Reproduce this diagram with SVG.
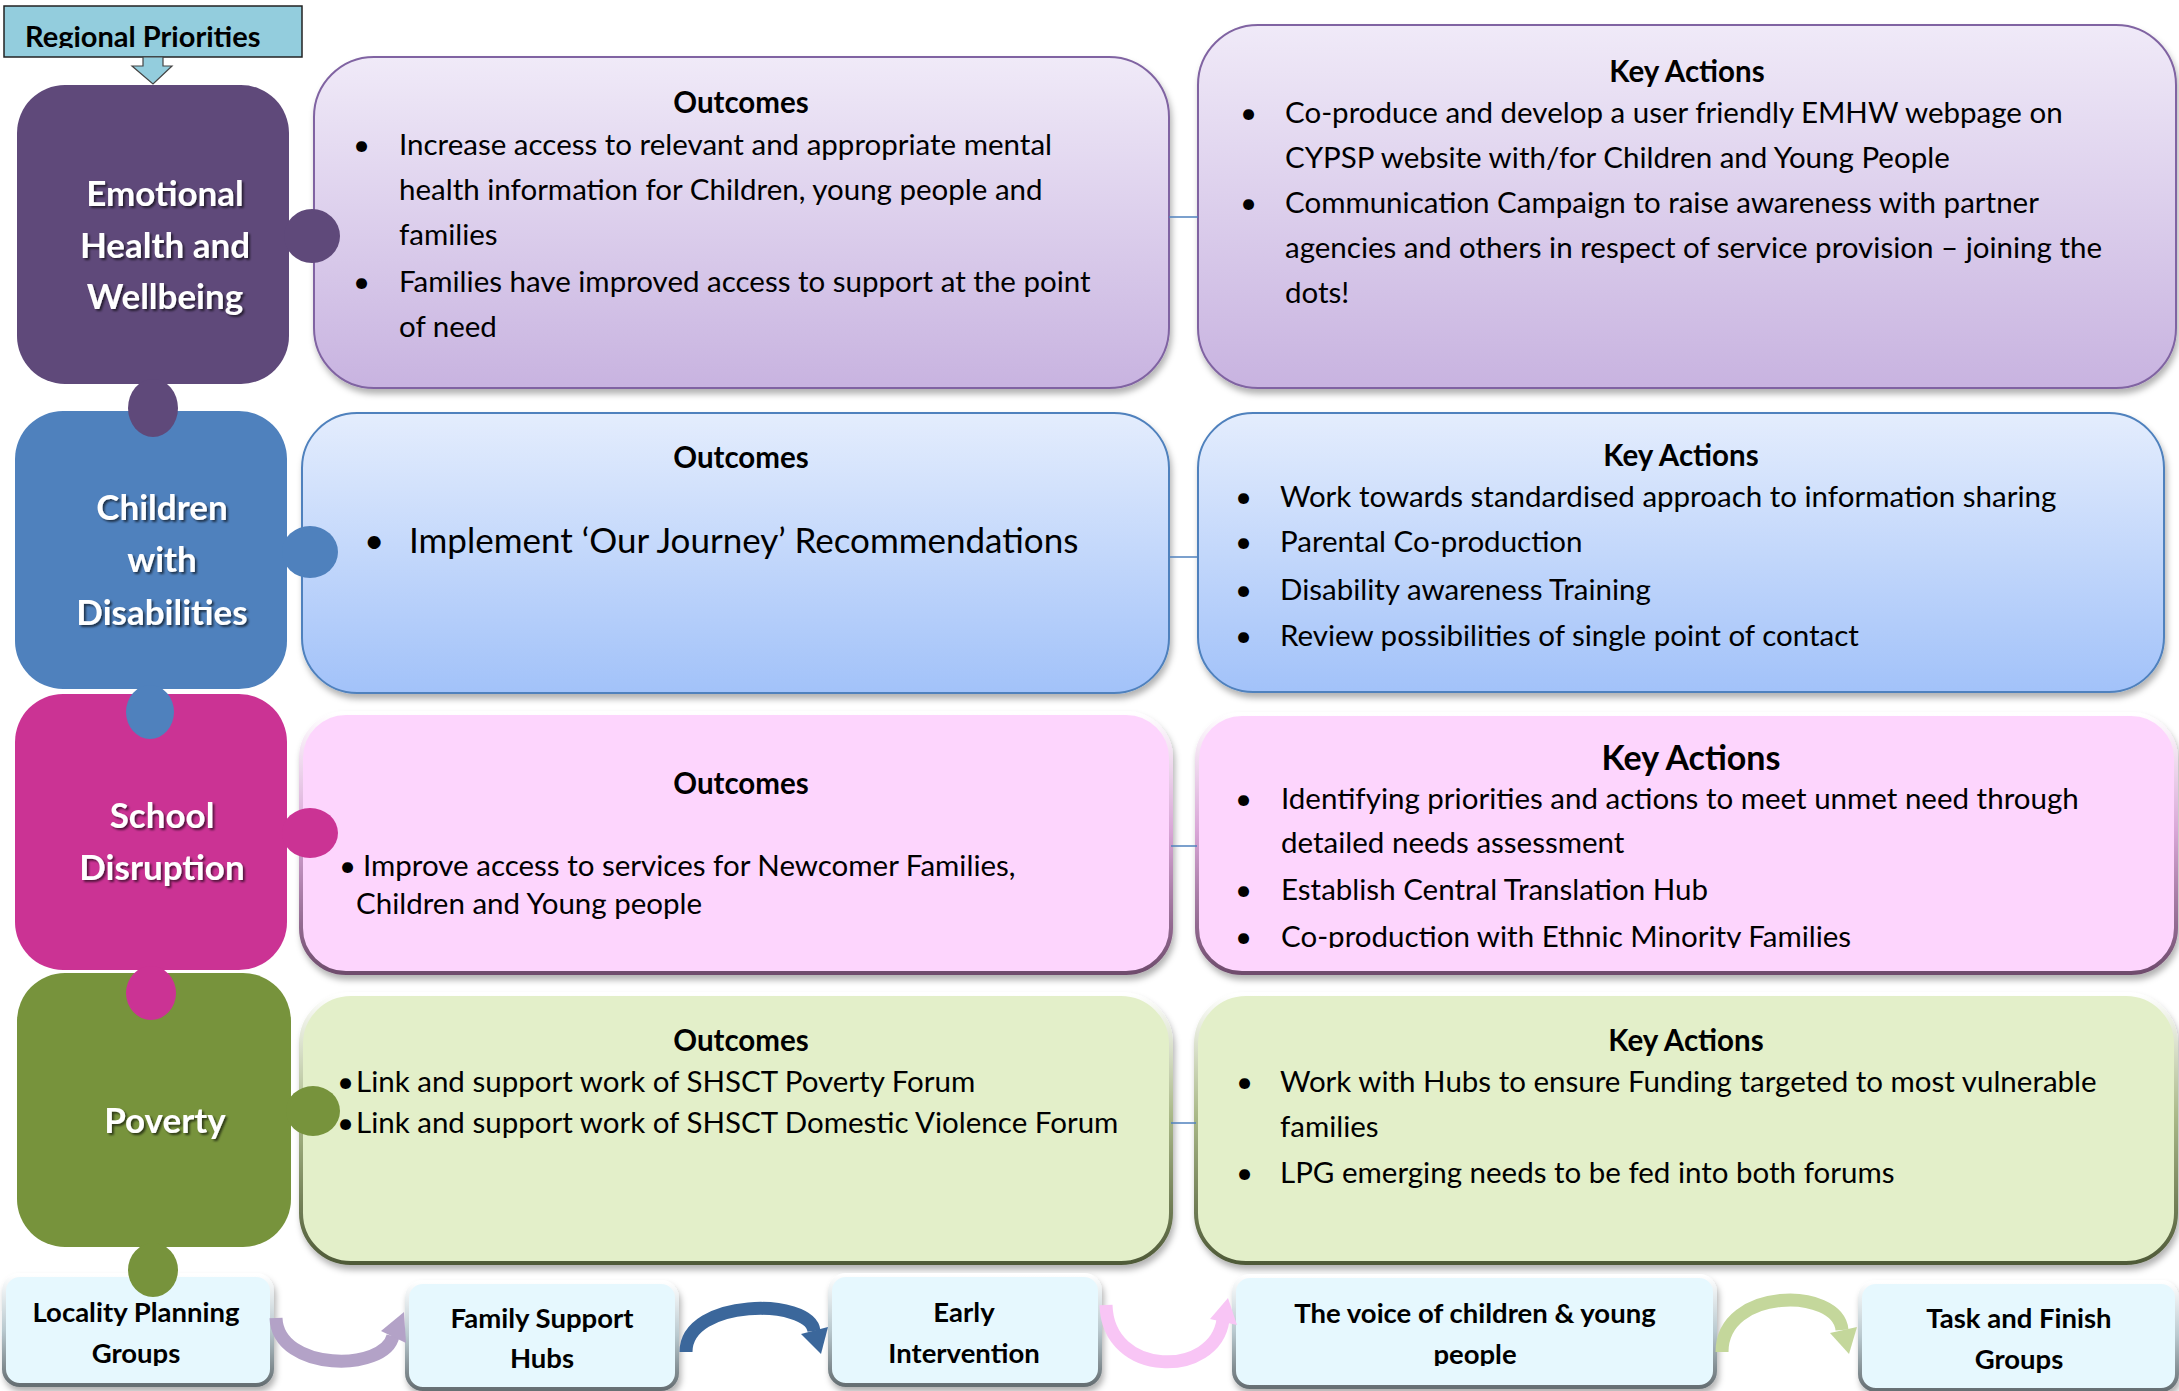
<svg xmlns="http://www.w3.org/2000/svg" width="2179" height="1391" viewBox="0 0 2179 1391">
<defs>
<style>
.body{font-family:Lato,"Open Sans","DejaVu Sans",sans-serif;font-size:29.5px;fill:#000}
.big{font-family:Lato,"Open Sans","DejaVu Sans",sans-serif;font-size:35px;fill:#000}
.head{font-family:Lato,"Open Sans","DejaVu Sans",sans-serif;font-size:29.5px;font-weight:700;fill:#000;text-anchor:middle}
.head2{font-family:Lato,"Open Sans","DejaVu Sans",sans-serif;font-size:34px;font-weight:700;fill:#000;text-anchor:middle}
.lbl{font-family:Lato,"Open Sans","DejaVu Sans",sans-serif;font-size:35px;font-weight:700;fill:#fff;text-anchor:middle;filter:url(#ts)}
.btm{font-family:Lato,"Open Sans","DejaVu Sans",sans-serif;font-size:27.5px;font-weight:700;fill:#000;text-anchor:middle}
.conn{stroke:#4F81BD;stroke-width:1.5;fill:none}
.curve{fill:none;stroke-width:13}
</style>
<linearGradient id="gPurple" x1="0" y1="0" x2="0" y2="1"><stop offset="0" stop-color="#F0EAF8"/><stop offset="1" stop-color="#C8B3E0"/></linearGradient>
<linearGradient id="gBlue" x1="0" y1="0" x2="0" y2="1"><stop offset="0" stop-color="#E4EDFD"/><stop offset="1" stop-color="#A2C2F9"/></linearGradient>
<linearGradient id="bPink" x1="0" y1="0" x2="0" y2="1"><stop offset="0" stop-color="#FFFFFF"/><stop offset="0.45" stop-color="#D9A6D7"/><stop offset="1" stop-color="#6F4C6D"/></linearGradient>
<linearGradient id="bGreen" x1="0" y1="0" x2="0" y2="1"><stop offset="0" stop-color="#FFFFFF"/><stop offset="0.45" stop-color="#AAB988"/><stop offset="1" stop-color="#4F5A38"/></linearGradient>
<linearGradient id="bCyan" x1="0" y1="0" x2="0" y2="1"><stop offset="0" stop-color="#FFFFFF"/><stop offset="0.5" stop-color="#B9C9CF"/><stop offset="1" stop-color="#666F73"/></linearGradient>
<filter id="sh" x="-5%" y="-5%" width="110%" height="120%"><feDropShadow dx="2" dy="5" stdDeviation="3" flood-color="#000" flood-opacity="0.3"/></filter>
<filter id="ts" x="-10%" y="-20%" width="120%" height="150%"><feDropShadow dx="2" dy="2" stdDeviation="1" flood-color="#000" flood-opacity="0.6"/></filter>
<clipPath id="cRP"><rect x="0" y="0" width="310" height="48"/></clipPath>
<clipPath id="cSDA"><rect x="1190" y="700" width="990" height="248"/></clipPath>
<clipPath id="cBtm"><rect x="0" y="1270" width="2179" height="96"/></clipPath>
</defs>

<g id="regional-priorities">
<rect x="4" y="6" width="298" height="51" fill="#93CDDD" stroke="#222" stroke-width="1.5"/>
<text x="25" y="47" clip-path="url(#cRP)" style="font-family:Lato,'Open Sans',sans-serif;font-size:29px;font-weight:700;fill:#000">Regional Priorities</text>
</g>

<g id="ehw-outcomes">
<rect x="314" y="57" width="855" height="331" rx="60" fill="url(#gPurple)" stroke="#8064A2" stroke-width="2" filter="url(#sh)"/>
<text class="head" x="741" y="113">Outcomes</text>
<text class="body" x="353" y="155">•</text>
<text class="body" x="399" y="155">Increase access to relevant and appropriate mental</text>
<text class="body" x="399" y="200">health information for Children, young people and</text>
<text class="body" x="399" y="245">families</text>
<text class="body" x="353" y="292">•</text>
<text class="body" x="399" y="292">Families have improved access to support at the point</text>
<text class="body" x="399" y="337">of need</text>
</g>

<g id="ehw-actions">
<rect x="1198" y="25" width="978" height="363" rx="60" fill="url(#gPurple)" stroke="#8064A2" stroke-width="2" filter="url(#sh)"/>
<text class="head" x="1687" y="82">Key Actions</text>
<text class="body" x="1240" y="123">•</text>
<text class="body" x="1285" y="123">Co-produce and develop a user friendly EMHW webpage on</text>
<text class="body" x="1285" y="168">CYPSP website with/for Children and Young People</text>
<text class="body" x="1240" y="213">•</text>
<text class="body" x="1285" y="213">Communication Campaign to raise awareness with partner</text>
<text class="body" x="1285" y="258">agencies and others in respect of service provision – joining the</text>
<text class="body" x="1285" y="303">dots!</text>
</g>

<g id="cwd-outcomes">
<rect x="302" y="413" width="867" height="280" rx="55" fill="url(#gBlue)" stroke="#4F81BD" stroke-width="2" filter="url(#sh)"/>
<text class="head" x="741" y="468">Outcomes</text>
<text class="big" x="364" y="553">•</text>
<text class="big" x="409" y="553">Implement ‘Our Journey’ Recommendations</text>
</g>

<g id="cwd-actions">
<rect x="1198" y="413" width="966" height="279" rx="55" fill="url(#gBlue)" stroke="#4F81BD" stroke-width="2" filter="url(#sh)"/>
<text class="head" x="1681" y="466">Key Actions</text>
<text class="body" x="1235" y="507">•</text>
<text class="body" x="1280" y="507">Work towards standardised approach to information sharing</text>
<text class="body" x="1235" y="552">•</text>
<text class="body" x="1280" y="552">Parental Co-production</text>
<text class="body" x="1235" y="600">•</text>
<text class="body" x="1280" y="600">Disability awareness Training</text>
<text class="body" x="1235" y="646">•</text>
<text class="body" x="1280" y="646">Review possibilities of single point of contact</text>
</g>

<g id="sd-outcomes">
<rect x="301" y="713" width="870" height="260" rx="45" fill="#FDD5FD" stroke="url(#bPink)" stroke-width="4" filter="url(#sh)"/>
<text class="head" x="741" y="794">Outcomes</text>
<text class="body" x="339" y="876">•</text>
<text class="body" x="363" y="876">Improve access to services for Newcomer Families,</text>
<text class="body" x="356" y="914">Children and Young people</text>
</g>

<g id="sd-actions">
<rect x="1197" y="714" width="979" height="259" rx="45" fill="#FDD5FD" stroke="url(#bPink)" stroke-width="4" filter="url(#sh)"/>
<text class="head2" x="1691" y="770">Key Actions</text>
<text class="body" x="1235" y="809">•</text>
<text class="body" x="1281" y="809">Identifying priorities and actions to meet unmet need through</text>
<text class="body" x="1281" y="853">detailed needs assessment</text>
<text class="body" x="1235" y="900">•</text>
<text class="body" x="1281" y="900">Establish Central Translation Hub</text>
<g clip-path="url(#cSDA)">
<text class="body" x="1235" y="947">•</text>
<text class="body" x="1281" y="947">Co-production with Ethnic Minority Families</text>
</g>
</g>

<g id="pov-outcomes">
<rect x="301" y="994" width="870" height="269" rx="50" fill="#E3EFC9" stroke="url(#bGreen)" stroke-width="4" filter="url(#sh)"/>
<text class="head" x="741" y="1051">Outcomes</text>
<text class="body" x="337" y="1092">•</text>
<text class="body" x="356" y="1092">Link and support work of SHSCT Poverty Forum</text>
<text class="body" x="337" y="1133">•</text>
<text class="body" x="356" y="1133">Link and support work of SHSCT Domestic Violence Forum</text>
</g>

<g id="pov-actions">
<rect x="1196" y="994" width="980" height="269" rx="50" fill="#E3EFC9" stroke="url(#bGreen)" stroke-width="4" filter="url(#sh)"/>
<text class="head" x="1686" y="1051">Key Actions</text>
<text class="body" x="1236" y="1092">•</text>
<text class="body" x="1280" y="1092">Work with Hubs to ensure Funding targeted to most vulnerable</text>
<text class="body" x="1280" y="1137">families</text>
<text class="body" x="1236" y="1183">•</text>
<text class="body" x="1280" y="1183">LPG emerging needs to be fed into both forums</text>
</g>

<g id="lpg">
<rect x="4" y="1275" width="268" height="110" rx="16" fill="#E6F8FE" stroke="url(#bCyan)" stroke-width="4" filter="url(#sh)"/>
<text class="btm" x="136" y="1322">Locality Planning</text>
<text class="btm" x="136" y="1363" clip-path="url(#cBtm)">Groups</text>
</g>
<g id="fsh">
<rect x="407" y="1282" width="270" height="107" rx="16" fill="#E6F8FE" stroke="url(#bCyan)" stroke-width="4" filter="url(#sh)"/>
<text class="btm" x="542" y="1328">Family Support</text>
<text class="btm" x="542" y="1368">Hubs</text>
</g>
<g id="ei">
<rect x="830" y="1275" width="270" height="110" rx="16" fill="#E6F8FE" stroke="url(#bCyan)" stroke-width="4" filter="url(#sh)"/>
<text class="btm" x="964" y="1322">Early</text>
<text class="btm" x="964" y="1363">Intervention</text>
</g>
<g id="voice">
<rect x="1234" y="1276" width="481" height="111" rx="16" fill="#E6F8FE" stroke="url(#bCyan)" stroke-width="4" filter="url(#sh)"/>
<text class="btm" x="1475" y="1323">The voice of children &amp; young</text>
<text class="btm" x="1475" y="1364" clip-path="url(#cBtm)">people</text>
</g>
<g id="tfg">
<rect x="1860" y="1282" width="317" height="108" rx="16" fill="#E6F8FE" stroke="url(#bCyan)" stroke-width="4" filter="url(#sh)"/>
<text class="btm" x="2019" y="1328">Task and Finish</text>
<text class="btm" x="2019" y="1369">Groups</text>
</g>

<g id="connectors">
<polygon points="143,57 163,57 163,66 172,66 153,84 132,66 143,66" fill="#93CDDD" stroke="#444" stroke-width="1.2"/>
<line class="conn" x1="1169" y1="217" x2="1198" y2="217"/>
<line class="conn" x1="1169" y1="557" x2="1198" y2="557"/>
<line class="conn" x1="1171" y1="846" x2="1197" y2="846"/>
<line class="conn" x1="1171" y1="1123" x2="1196" y2="1123"/>
<path class="curve" stroke="#B3A2C7" d="M276 1318 C278 1372 385 1372 393 1336"/>
<polygon fill="#B3A2C7" points="404,1312 406,1343 381,1331"/>
<path class="curve" stroke="#3B679B" d="M686 1352 C686 1298 810 1298 814 1331"/>
<polygon fill="#3B679B" points="821,1354 828,1327 801,1334"/>
<path class="curve" stroke="#F8C5F5" d="M1106 1305 C1108 1378 1215 1378 1223 1320"/>
<polygon fill="#F8C5F5" points="1228,1298 1237,1325 1210,1319"/>
<path class="curve" stroke="#C4D79B" d="M1722 1352 C1722 1287 1838 1287 1842 1330"/>
<polygon fill="#C4D79B" points="1849,1354 1857,1327 1830,1333"/>
</g>

<g id="pov">
<rect x="17" y="973" width="274" height="274" rx="48" fill="#77933C"/>
<ellipse cx="313" cy="1111" rx="27" ry="25" fill="#77933C"/>
<ellipse cx="153" cy="1270" rx="25" ry="27" fill="#77933C"/>
<text class="lbl" x="165" y="1133">Poverty</text>
</g>
<g id="sd">
<rect x="15" y="694" width="272" height="276" rx="48" fill="#CB3394"/>
<ellipse cx="310" cy="833" rx="28" ry="25" fill="#CB3394"/>
<ellipse cx="151" cy="993" rx="25" ry="27" fill="#CB3394"/>
<text class="lbl" x="162" y="828">School</text>
<text class="lbl" x="162" y="880">Disruption</text>
</g>
<g id="cwd">
<rect x="15" y="411" width="272" height="278" rx="48" fill="#4F81BD"/>
<ellipse cx="310" cy="552" rx="28" ry="26" fill="#4F81BD"/>
<ellipse cx="150" cy="712" rx="24" ry="27" fill="#4F81BD"/>
<text class="lbl" x="162" y="520">Children</text>
<text class="lbl" x="162" y="572">with</text>
<text class="lbl" x="162" y="625">Disabilities</text>
</g>
<g id="ehw">
<rect x="17" y="85" width="272" height="299" rx="48" fill="#5F497A"/>
<ellipse cx="312" cy="236" rx="28" ry="27" fill="#5F497A"/>
<ellipse cx="153" cy="408" rx="25" ry="29" fill="#5F497A"/>
<text class="lbl" x="165" y="206">Emotional</text>
<text class="lbl" x="165" y="258">Health and</text>
<text class="lbl" x="165" y="309">Wellbeing</text>
</g>
</svg>
